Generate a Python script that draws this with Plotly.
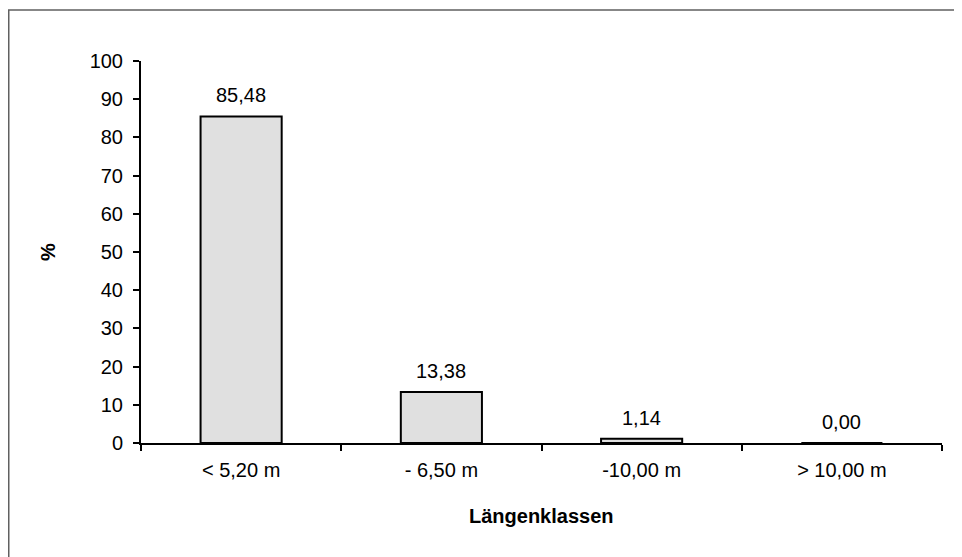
import plotly.graph_objects as go

categories = ["< 5,20 m", "- 6,50 m", "-10,00 m", "> 10,00 m"]
values = [85.48, 13.38, 1.14, 0.00]
y_ticks = list(range(0, 101, 10))

FONT = "Liberation Sans, Arial, sans-serif"

W, H = 954, 549
L, R, T, B = 133, 20, 53, 114
PW, PH = W - L - R, H - T - B

fig = go.Figure()
fig.add_trace(go.Bar(
    x=categories, y=values,
    marker=dict(color="#e0e0e0", line=dict(color="black", width=2)),
    hoverinfo="skip",
))

for c, v in zip(categories, values):
    fig.add_annotation(x=c, y=v, text=f"{v:.2f}".replace(".", ","),
                       showarrow=False, yanchor="bottom", yshift=8,
                       font=dict(family=FONT, size=20, color="black"))

fig.add_annotation(xref="paper", yref="paper", x=0.5, y=-73 / PH,
                   text="<b>Längenklassen</b>", showarrow=False,
                   xanchor="center", yanchor="middle",
                   font=dict(family=FONT, size=20, color="black"))
fig.add_annotation(xref="paper", yref="paper", x=-93 / PW, y=0.5,
                   text="<b>%</b>", showarrow=False, textangle=-90,
                   xanchor="center", yanchor="middle",
                   font=dict(family=FONT, size=20, color="black"))

fig.add_shape(type="rect", xref="paper", yref="paper",
              x0=(0.75 - L) / PW, x1=1.1, y0=-0.35, y1=(PH + T - 2) / PH,
              line=dict(color="#606060", width=1.5), fillcolor="rgba(0,0,0,0)")

fig.update_layout(
    width=W, height=H,
    margin=dict(l=L, r=R, t=T, b=B),
    paper_bgcolor="white", plot_bgcolor="white",
    bargap=0.595, showlegend=False,
    font=dict(family=FONT, size=20, color="black"),
    xaxis=dict(type="category", range=[-0.5, 3.5], showline=True,
               linecolor="black", linewidth=2, ticks="outside",
               tickson="boundaries", ticklen=6, tickwidth=2, tickcolor="black",
               showgrid=False, zeroline=False, fixedrange=True,
               ticklabelstandoff=8,
               tickfont=dict(family=FONT, size=20, color="black")),
    yaxis=dict(range=[0, 100], tickvals=y_ticks, showline=True,
               linecolor="black", linewidth=2, ticks="outside", ticklen=6,
               tickwidth=2, tickcolor="black", showgrid=False, zeroline=False,
               fixedrange=True, ticklabelstandoff=6,
               tickfont=dict(family=FONT, size=20, color="black")),
)

fig.write_html("out.html")
